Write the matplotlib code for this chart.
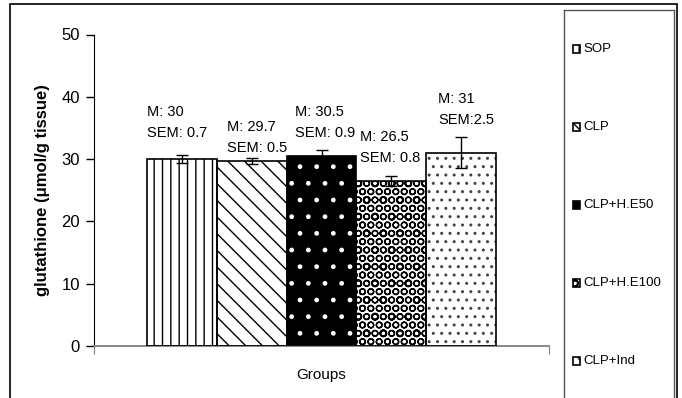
import matplotlib.pyplot as plt
from matplotlib.patches import Rectangle

groups = ["SOP", "CLP", "CLP+H.E50", "CLP+H.E100", "CLP+Ind"]
means = [30, 29.7, 30.5, 26.5, 31]
sems = [0.7, 0.5, 0.9, 0.8, 2.5]
mean_labels = ["M: 30", "M: 29.7", "M: 30.5", "M: 26.5", "M: 31"]
sem_labels = ["SEM: 0.7", "SEM: 0.5", "SEM: 0.9", "SEM: 0.8", "SEM:2.5"]

plt.rcParams["font.family"] = ["Liberation Sans", "DejaVu Sans"]
plt.rcParams["hatch.linewidth"] = 1.0

W, H = 682, 398

# per-bar look: face colour, hatch, hatch colour
styles = [
    ("white", "||", "black"),
    ("white", "\\\\", "black"),
    ("black", ".", "white"),
    ("white", "OOo", "black"),
    ("white", "..", "#444444"),
]
# baseline of the SEM line (data units) and x nudge (px) for each annotation
sem_base = [33.55, 31.1, 33.55, 29.5, 35.6]
label_dx = [0, 10, 8, 4, 12]

fig = plt.figure(figsize=(W / 100, H / 100), dpi=100)
ax = fig.add_axes([94 / W, 1 - 346 / H, 455 / W, 311.5 / H])

width = 349 / 455 / 5
centers = [0.5 + (i - 2) * width for i in range(len(groups))]
px = 1 / 455  # one pixel in axes x units
unit = 50 / 311.5  # one pixel in data y units
for i, (c, m, s) in enumerate(zip(centers, means, sems)):
    face, hatch, hcol = styles[i]
    ax.bar(c, m, width=width, color=face, hatch=hatch, edgecolor=hcol,
           linewidth=0, zorder=2)
    ax.bar(c, m, width=width, fill=False, edgecolor="black", linewidth=1.2, zorder=3)
    ax.errorbar(c, m, yerr=s, color="black", capsize=4, elinewidth=1,
                capthick=1, zorder=4)
    x0 = c - width / 2 + label_dx[i] * px
    ax.text(x0, sem_base[i], sem_labels[i], ha="left", va="baseline", fontsize=10.5)
    ax.text(x0, sem_base[i] + 21 * unit, mean_labels[i], ha="left", va="baseline",
            fontsize=10.5)

ax.set_xlim(0, 1)
ax.set_ylim(0, 50)
ax.set_yticks(range(0, 51, 10))
ax.set_xticks([0, 1])
ax.set_xticklabels(["", ""])
ax.tick_params(axis="y", direction="out", length=6, labelsize=12, width=1, pad=4)
ax.tick_params(axis="x", direction="out", length=6, color="#808080")
for side in ("top", "right"):
    ax.spines[side].set_visible(False)
ax.spines["bottom"].set_color("#808080")
ax.spines["bottom"].set_linewidth(1.3)
ax.set_xlabel("Groups", fontsize=11, labelpad=6)
ax.set_ylabel("glutathione (\u03bcmol/g tissue)", fontsize=12, fontweight="bold",
              labelpad=8)

# legend panel drawn as its own axes
lax = fig.add_axes([564 / W, -0.02, 110 / W, (H - 10) / H + 0.02])
lax.set_xlim(0, 110)
lax.set_ylim(H + 0.02 * H, 10)
lax.set_xticks([])
lax.set_yticks([])
for sp in lax.spines.values():
    sp.set_color("#555555")
    sp.set_linewidth(1.0)
entry_y = [49, 127, 205, 283, 361]
for i, name in enumerate(groups):
    face, hatch, hcol = styles[i]
    lax.add_patch(Rectangle((9, entry_y[i] - 4), 7, 8, facecolor=face,
                            hatch=hatch, edgecolor=hcol, linewidth=0))
    lax.add_patch(Rectangle((9, entry_y[i] - 4), 7, 8, fill=False,
                            edgecolor="black", linewidth=1.2))
    lax.text(19, entry_y[i], name, ha="left", va="center", fontsize=9.5)

fig.patches.append(Rectangle((10 / W, -0.01), 667 / W, 1.0 - 4 / H + 0.01,
                             transform=fig.transFigure, fill=False,
                             edgecolor="black", linewidth=1.2))

fig.savefig("out.png", dpi=100)
